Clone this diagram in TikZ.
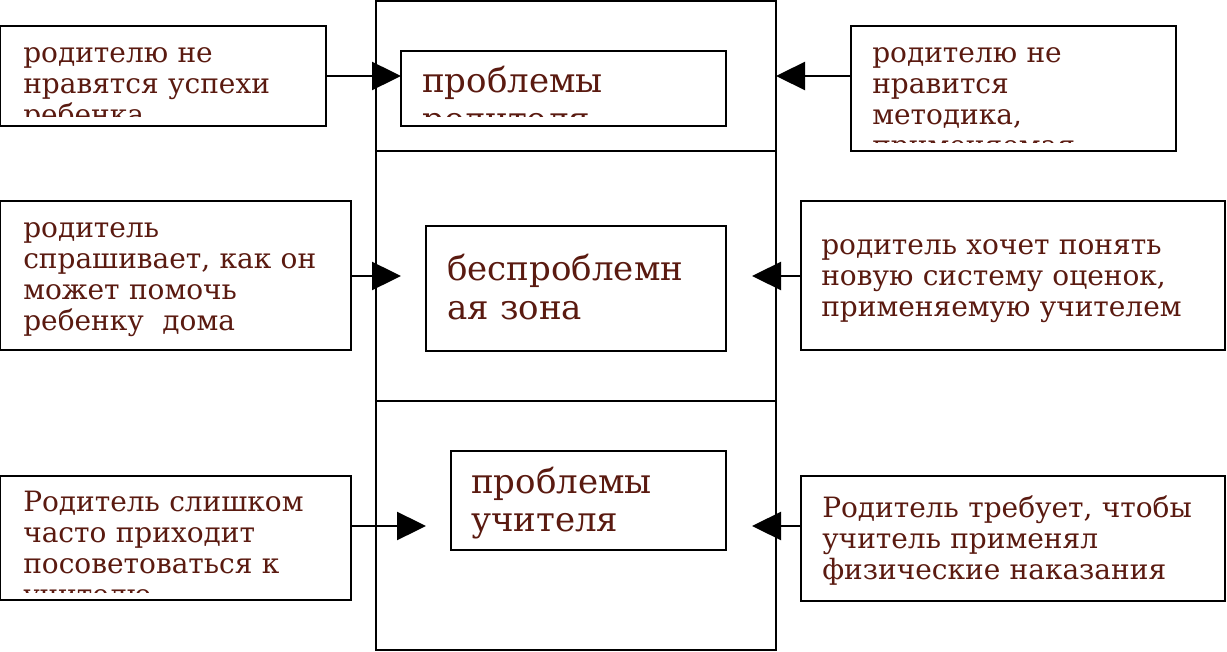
\documentclass[tikz,border=0pt]{standalone}
\usepackage{fontspec}
\setmainfont{DejaVu Serif}
\usetikzlibrary{arrows.meta,fit}
\definecolor{txt}{RGB}{90,26,16}
\begin{document}
\begin{tikzpicture}[x=0.75pt,y=-0.75pt,
  box/.style={draw=black, line width=1.8pt, inner sep=0pt},
  sidetxt/.style={text=txt, anchor=base west, inner sep=0pt, text width=315pt, align=left,
    font=\fontsize{21}{23.25}\selectfont},
  ctrtxt/.style={text=txt, anchor=base west, inner sep=0pt, text width=315pt, align=left,
    font=\fontsize{25.5}{29}\selectfont},
  arr/.style={line width=1.8pt, -{Triangle[length=21.75pt,width=21pt]}}]
\useasboundingbox (0,0) rectangle (1227,652);
\fill[white] (0,0) rectangle (1227,652);

% big central column
\node[box, fit={(376,1) (776,650)}] (big) {};
\coordinate (d1) at (376,151);
\coordinate (d2) at (376,401);
\draw[line width=1.8pt] (big.west |- d1) -- (big.east |- d1);
\draw[line width=1.8pt] (big.west |- d2) -- (big.east |- d2);

% texts (clipped where they overflow)
\begin{scope}
  \clip (0,26) rectangle (326,117);
  \node[sidetxt] (tlT) at (23,63) {родителю не\\нравятся успехи\\ребенка};
\end{scope}
\begin{scope}
  \clip (851,26) rectangle (1176,143);
  \node[sidetxt] (trT) at (872,63) {родителю не\\нравится\\методика,\\применяемая};
\end{scope}
\node[sidetxt] (mlT) at (23,238) {родитель\\спрашивает, как он\\может помочь\\ребенку~ дома};
\node[sidetxt] (mrT) at (821,255) {родитель хочет понять\\новую систему оценок,\\применяемую учителем};
\begin{scope}
  \clip (0,476) rectangle (351,592);
  \node[sidetxt] (blT) at (23,511) {Родитель слишком\\часто приходит\\посоветоваться к\\учителю};
\end{scope}
\node[sidetxt] (brT) at (822,517) {Родитель требует, чтобы\\учитель применял\\физические наказания};

\begin{scope}
  \clip (401,51) rectangle (726,117);
  \node[ctrtxt] (tcT) at (422,93) {проблемы\\родителя};
\end{scope}
\node[ctrtxt] (mcT) at (447,281) {беспроблемн\\ая зона};
\node[ctrtxt] (bcT) at (471,493) {проблемы\\учителя};

% boxes
\node[box, fit={(0,26) (326,126)}] (tl) {};
\node[box, fit={(851,26) (1176,151)}] (tr) {};
\node[box, fit={(0,201) (351,350)}] (ml) {};
\node[box, fit={(801,201) (1225,350)}] (mr) {};
\node[box, fit={(0,476) (351,600)}] (bl) {};
\node[box, fit={(801,476) (1225,601)}] (br) {};
\node[box, fit={(401,51) (726,126)}] (tc) {};
\node[box, fit={(426,226) (726,351)}] (mc) {};
\node[box, fit={(451,451) (726,550)}] (bc) {};

% arrow tips
\coordinate (a1) at (401,76);
\coordinate (a2) at (776,76);
\coordinate (a3) at (401,276);
\coordinate (a4) at (752,276);
\coordinate (a5) at (426,526);
\coordinate (a6) at (752,526);

\draw[arr] (tl.east |- a1) -- (a1);
\draw[arr] (tr.west |- a2) -- (a2);
\draw[arr] (ml.east |- a3) -- (a3);
\draw[arr] (mr.west |- a4) -- (a4);
\draw[arr] (bl.east |- a5) -- (a5);
\draw[arr] (br.west |- a6) -- (a6);
\end{tikzpicture}
\end{document}
